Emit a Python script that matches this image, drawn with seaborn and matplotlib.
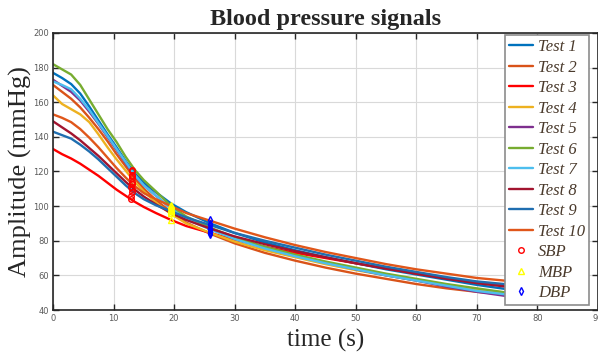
import numpy as np
import pandas as pd
import seaborn as sns
import matplotlib.pyplot as plt

# --- data ---
t = [0, 1.5, 3, 4.5, 6, 7.5, 9, 10.5, 12, 13.5, 15, 17, 19.5, 22, 26,
     30, 35, 40, 45, 50, 55, 60, 65, 70, 76]

test1 = [177, 174, 170.5, 165, 157.5, 149.5, 141.5, 134, 126, 119, 113.5, 108, 101.5,
         96.5, 90, 84.5, 79, 74.5, 70.5, 67, 63.5, 60.5, 57.5, 54.5, 51.5]
test2 = [170, 166, 162, 157, 151, 144.5, 137.5, 130, 123, 116, 110, 103.5, 96.5,
         90.5, 84, 78.5, 73, 68.5, 64.5, 61, 58, 55, 52.5, 50.5, 48.5]
test3 = [133, 130, 127.5, 124.5, 121, 117.5, 113.5, 109.5, 106, 102.5, 99.5, 96, 92,
         88.5, 84.5, 80.5, 76.5, 73, 70, 67, 64, 61, 58.5, 56, 53.5]
test4 = [164, 159, 156, 153, 148.5, 141.5, 134, 127, 120.5, 114, 108.5, 102, 95.5,
         90, 84.5, 79.5, 74.5, 70.5, 66.5, 63, 60, 57, 54.5, 52, 49.5]
test5 = [173, 169.5, 166, 161, 154.5, 147.5, 140, 132.5, 125, 117.5, 112, 106, 98.5,
         93, 87, 81.5, 76, 71.5, 67.5, 63.5, 60, 57, 53.5, 50.5, 47.5]
test6 = [182, 179, 176, 170, 161.5, 153, 144.5, 137, 128.5, 121, 115, 108.5, 100,
         94, 87.5, 82, 76.5, 72, 68, 64.5, 61, 58, 55, 52.5, 49.5]
test7 = [172, 170, 167.5, 162, 155.5, 148, 140.5, 133, 125.5, 118, 112, 106, 98.5,
         92.5, 86.5, 81, 75.5, 71, 67, 63.5, 60, 57, 54, 51, 48.5]
test8 = [149, 145.5, 142, 138, 133.5, 129, 124, 119, 114, 109.5, 105.5, 101, 96,
         92, 87, 82.5, 78, 74, 70.5, 67, 64, 61, 58, 55.5, 53]
test9 = [143, 141, 139, 135.5, 131.5, 127, 122, 117, 112, 107.5, 104, 100.5, 97,
         93.5, 89, 84.5, 80, 76, 72, 68.5, 65, 62, 59, 56.5, 54.5]
test10 = [153, 151, 148.5, 144.5, 139.5, 134, 128, 122, 116.5, 111.5, 107.5, 104, 100,
          96, 91.5, 87, 82, 77.5, 73.5, 70, 66.5, 63.5, 61, 58.5, 56.5]

tests = [test1, test2, test3, test4, test5, test6, test7, test8, test9, test10]
names = [f"Test {i}" for i in range(1, 11)]
colors = ["#0072BD", "#D95319", "#FF0000", "#EDB120", "#7E2F8E",
          "#77AC30", "#4DBEEE", "#A2142F", "#1F6EB0", "#E0561A"]

sbp_t = [13, 13, 12.8, 13, 13, 13.1, 13, 12.9, 13, 13, 12.9, 13.1]
sbp = [120, 116, 104, 113, 117.5, 121, 118, 111, 108, 114, 106, 110]
mbp_t = [19.5] * 10
mbp = [100, 97, 92, 96, 98, 99, 98.5, 96, 97, 100.5]
dbp_t = [26] * 10
dbp = [89.5, 84, 85, 85, 86.5, 87, 86.5, 87, 89, 92]

df = pd.DataFrame({
    "time": t * len(tests),
    "amp": np.concatenate(tests),
    "test": np.repeat(names, len(t)),
})

sns.set_theme(style="whitegrid")
plt.rcParams["font.family"] = ["DejaVu Sans"]

fig = plt.figure(figsize=(5.98, 3.53), dpi=100)
ax = fig.add_axes([53 / 598, 1 - 310 / 353, 545 / 598, 277 / 353])

sns.lineplot(data=df, x="time", y="amp", hue="test", hue_order=names,
             palette=colors, linewidth=1.7, ax=ax)
ax.plot(sbp_t, sbp, "o", ms=4, mfc="none", mec="red", mew=1, label="SBP")
ax.plot(mbp_t, mbp, "^", ms=4, mfc="none", mec="yellow", mew=1, label="MBP")
ax.plot(dbp_t, dbp, "d", ms=4, mfc="none", mec="blue", mew=1, label="DBP")

ax.set_xlim(0, 90)
ax.set_ylim(40, 200)
ax.set_xticks(range(0, 91, 10))
ax.set_yticks(range(40, 201, 20))
ax.set_facecolor("white")
ax.grid(True, color="#d9d9d9", linewidth=0.8)
for s in ax.spines.values():
    s.set_color("#262626")
    s.set_linewidth(1.2)
ax.tick_params(direction="in", length=4, width=1, colors="#262626",
               labelcolor="#5a5a5a", labelsize=6, top=True, right=True,
               bottom=True, left=True, pad=3)

serif = ["Liberation Serif", "DejaVu Serif"]
ax.set_title("Blood pressure signals", fontsize=17.5, fontweight="bold",
             family=serif, pad=6)
ax.set_xlabel("time (s)", fontsize=18, family=serif, labelpad=4)
ax.set_ylabel("Amplitude (mmHg)", fontsize=19, family=serif, labelpad=1)

handles, labels = ax.get_legend_handles_labels()
leg = ax.legend(handles, labels, loc="upper right",
                bbox_to_anchor=(589 / 598, 1 - 35 / 353),
                bbox_transform=fig.transFigure, fancybox=False,
                edgecolor="#8c8c8c", framealpha=1, handlelength=1.4,
                handletextpad=0.3, labelspacing=0.27, borderpad=0.25,
                borderaxespad=0,
                prop={"family": serif, "style": "italic", "size": 12})
leg.get_frame().set_linewidth(1.2)
for txt in leg.get_texts():
    txt.set_color("#4a3a2c")

fig.savefig("out.png", dpi=100)
